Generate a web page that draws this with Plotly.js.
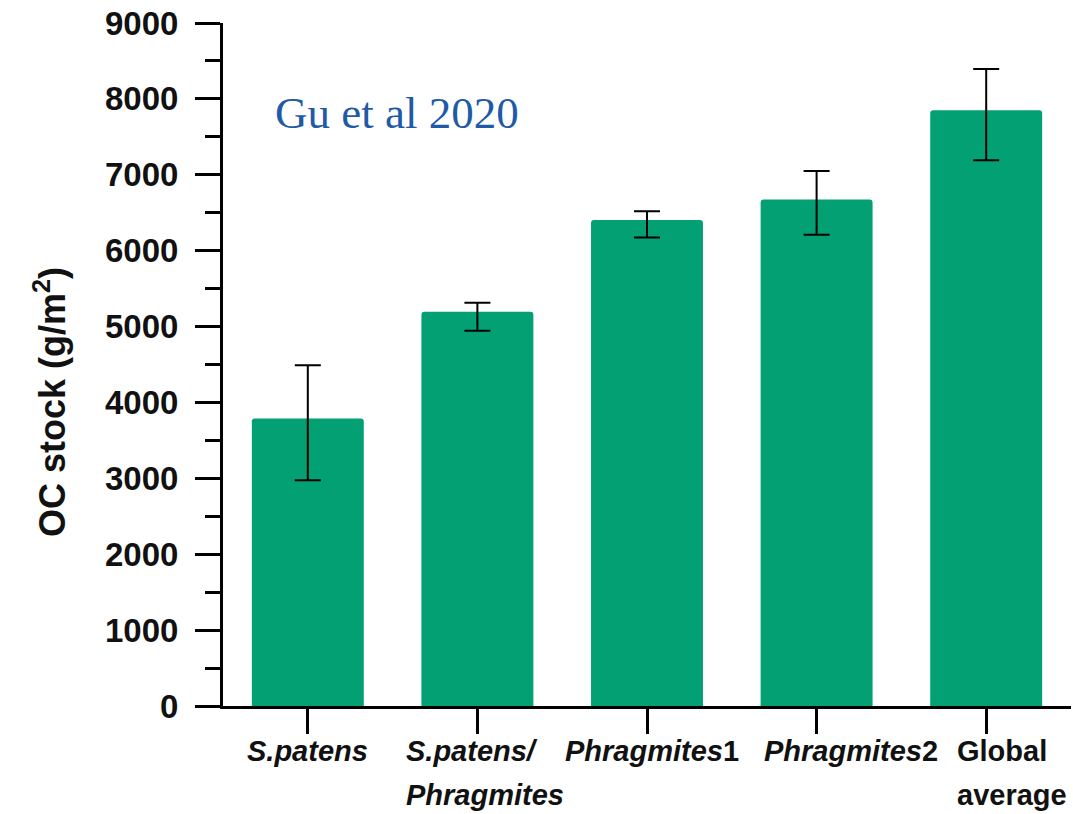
<!DOCTYPE html>
<html>
<head>
<meta charset="utf-8">
<script src="https://cdn.plot.ly/plotly-3.0.1.min.js"></script>
<style>
  html, body { margin: 0; padding: 0; background: #ffffff; }
  #chart { width: 1073px; height: 814px; }
</style>
</head>
<body>
<div id="chart"></div>
<script>
// Organic carbon stock by vegetation type (g/m²)
const categories = ["S.patens", "S.patens/Phragmites", "Phragmites1", "Phragmites2", "Global average"];
// Category labels, split over two lines where needed
const labelLine1 = ["<i>S.patens</i>", "<i>S.patens/</i>", "<i>Phragmites</i>1", "<i>Phragmites</i>2", "Global"];
const labelLine2 = ["", "<i>Phragmites</i>", "", "", "average"];
const ocStock  = [3790, 5195, 6405, 6675, 7850];
const errPlus  = [700, 120, 115, 375, 545];
const errMinus = [815, 250, 230, 465, 660];
const yTicks   = [0, 1000, 2000, 3000, 4000, 5000, 6000, 7000, 8000, 9000];

const ink = "#111111";
const L = 223, R = 2, T = 23, B = 108;
const W = 1073, H = 814;
const pw = W - L - R, ph = H - T - B;
const px = v => (v - L) / pw;
const py = v => (H - B - v) / ph;

// label placement under each tick: anchor and horizontal shift in px
const labelAnchor = ["center", "left", "center", "center", "left"];
const labelShift  = [0, -72, 5, 34, -30];

const trace = {
  type: "bar",
  x: categories,
  y: ocStock,
  width: 0.66,
  marker: { color: "#02A072", cornerradius: 3, line: { width: 0 } },
  error_y: {
    type: "data",
    symmetric: false,
    array: errPlus,
    arrayminus: errMinus,
    color: "#000000",
    thickness: 2,
    width: 13
  },
  hoverinfo: "x+y"
};

const labelFont = { family: "Liberation Sans, Arial, sans-serif", size: 29, weight: "bold", color: ink };
const labelAnnotations = [];
categories.forEach((c, i) => {
  [labelLine1[i], labelLine2[i]].forEach((txt, k) => {
    if (!txt) return;
    labelAnnotations.push({
      text: txt,
      xref: "x", yref: "paper",
      x: c, y: py(k === 0 ? 751 : 795),
      xanchor: labelAnchor[i], yanchor: "middle",
      xshift: labelShift[i],
      borderpad: 0,
      showarrow: false,
      font: labelFont
    });
  });
});

const layout = {
  width: W,
  height: H,
  margin: { l: L, r: R, t: T, b: B, pad: 0 },
  paper_bgcolor: "#ffffff",
  plot_bgcolor: "#ffffff",
  showlegend: false,
  bargap: 0.34,
  font: { family: "Liberation Sans, Arial, sans-serif", color: ink },
  xaxis: {
    type: "category",
    range: [-0.5, 4.5],
    tickvals: categories,
    showticklabels: false,
    ticks: "outside",
    ticklen: 25,
    tickwidth: 3,
    tickcolor: "#000000",
    showline: true,
    linewidth: 3,
    linecolor: "#000000",
    showgrid: false,
    zeroline: false,
    fixedrange: true
  },
  yaxis: {
    range: [0, 9000],
    tickvals: yTicks,
    ticks: "outside",
    ticklen: 25,
    tickwidth: 3,
    tickcolor: "#000000",
    showline: true,
    linewidth: 3,
    linecolor: "#000000",
    showgrid: false,
    zeroline: false,
    tickfont: { size: 33, weight: "bold", color: ink },
    ticklabelstandoff: 10,
    minor: { dtick: 500, ticks: "outside", ticklen: 15, tickwidth: 3, tickcolor: "#000000", showgrid: false },
    fixedrange: true
  },
  annotations: [
    {
      text: "OC stock (g/m<sup>2</sup>)",
      xref: "paper", yref: "paper",
      x: px(50), y: py(402),
      xanchor: "center", yanchor: "middle",
      textangle: -90,
      showarrow: false,
      font: { size: 36, weight: "bold", color: ink }
    },
    {
      text: "Gu et al 2020",
      xref: "paper", yref: "paper",
      x: px(397), y: py(113),
      xanchor: "center", yanchor: "middle",
      showarrow: false,
      font: { family: "Liberation Serif, Times New Roman, serif", size: 45, color: "#1F5AA6" }
    }
  ].concat(labelAnnotations)
};

Plotly.newPlot("chart", [trace], layout, { staticPlot: true, displayModeBar: false });
</script>
</body>
</html>
